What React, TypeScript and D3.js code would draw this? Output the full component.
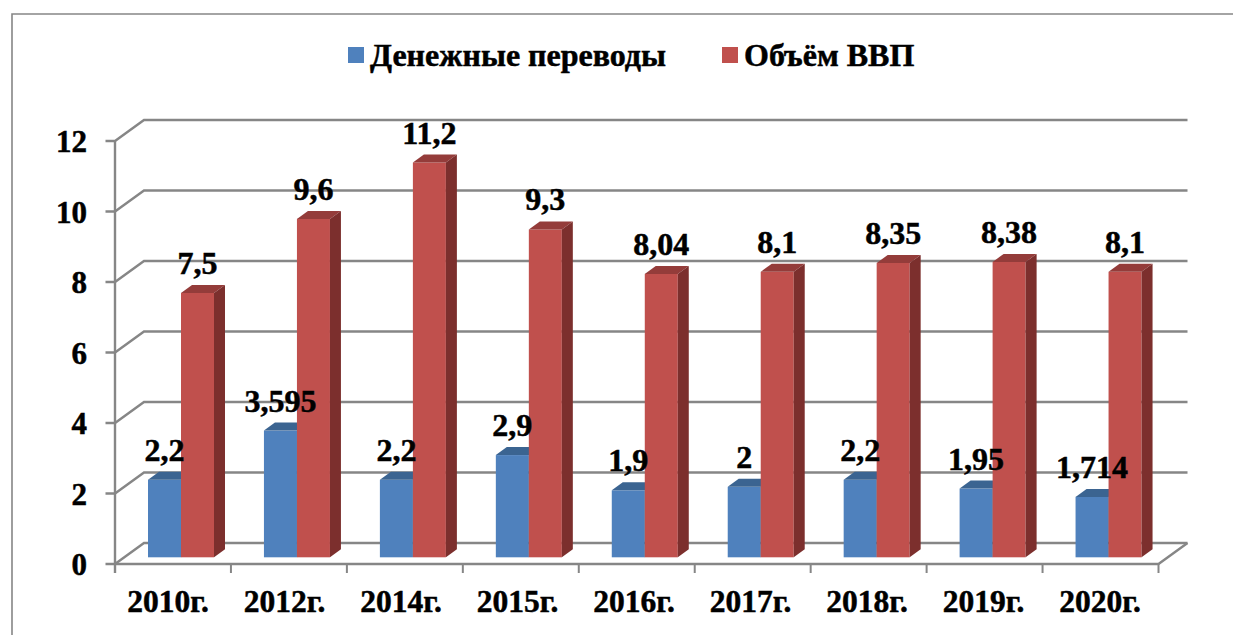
import * as d3 from "d3";

const w = 1233;
const h = 635;

const categories = ["2010г.", "2012г.", "2014г.", "2015г.", "2016г.", "2017г.", "2018г.", "2019г.", "2020г."];
const remittances = [2.2, 3.595, 2.2, 2.9, 1.9, 2, 2.2, 1.95, 1.714];
const gdp = [7.5, 9.6, 11.2, 9.3, 8.04, 8.1, 8.35, 8.38, 8.1];
const yTicks = [0, 2, 4, 6, 8, 10, 12];
const seriesNames = ["Денежные переводы", "Объём ВВП"];

const font = "'Liberation Serif', 'Times New Roman', serif";
const gridColor = "#868686";

// front plane of the axes and how far the back wall is pushed
const left = 115;
const right = 1158.5;
const bottom = 564;
const top = 141;
const wallDx = 29;
const wallDy = 21;

// bars stand a bit behind the front plane
const barLift = 6.7;
const barDx = 11;
const barDy = 8;

const x = d3.scaleBand<string>().domain(categories).range([left, right]);
const inner = d3.scaleBand<number>().domain([0, 1]).range([33, 99]);
const y = d3.scaleLinear().domain([0, 12]).range([bottom, top]);
// category captions are spaced a touch wider than the bands
const xLabel = d3.scalePoint<string>().domain(categories).range([168, 1100]);

const fmt = (v: number) => String(v).replace(".", ",");

const palette = [
  { front: "#4f81bd", top: "#3b6491", side: "#2f4f75" },
  { front: "#c0504d", top: "#943c3a", side: "#7c2f2d" },
];

// the original text is heavy, a hairline stroke brings the weight closer
const boldText = {
  fontFamily: font,
  fontWeight: "bold",
  stroke: "#000",
  strokeWidth: 0.5,
};

function Bar({ cat, s, v }: { cat: string; s: number; v: number }) {
  const x0 = (x(cat) as number) + (inner(s) as number);
  const x1 = x0 + inner.bandwidth();
  const y0 = y(0) - barLift;
  const y1 = y(v) - barLift;
  const c = palette[s];
  return (
    <g>
      <rect x={x0} y={y1} width={x1 - x0} height={y0 - y1} fill={c.front} />
      <path
        d={`M${x0},${y1}L${x0 + barDx},${y1 - barDy}L${x1 + barDx},${y1 - barDy}L${x1},${y1}Z`}
        fill={c.top}
      />
      <path
        d={`M${x1},${y1}L${x1 + barDx},${y1 - barDy}L${x1 + barDx},${y0 - barDy}L${x1},${y0}Z`}
        fill={c.side}
      />
    </g>
  );
}

function App() {
  const series = [remittances, gdp];
  return (
    <svg width={w} height={h} style={{ position: "absolute", left: 0, top: 0, background: "#fff" }}>
      {/* outer frame runs off the picture on the right and bottom */}
      <path d={`M12,${h}V14H${w}`} fill="none" stroke={gridColor} strokeWidth={1.6} />

      {/* legend */}
      <rect x={348} y={47} width={16} height={16} fill={palette[0].front} />
      <text x={370} y={66} {...boldText} fontSize={32}>
        {seriesNames[0]}
      </text>
      <rect x={722} y={47} width={16} height={16} fill={palette[1].front} />
      <text x={744} y={66} {...boldText} fontSize={32}>
        {seriesNames[1]}
      </text>

      {/* walls */}
      {yTicks.map((t) => (
        <path
          key={t}
          d={`M${left - 9.5},${y(t)}H${left}L${left + wallDx},${y(t) - wallDy}H${right + wallDx}`}
          fill="none"
          stroke={gridColor}
          strokeWidth={2.4}
        />
      ))}
      <line x1={left} x2={left} y1={top} y2={bottom + 9} stroke={gridColor} strokeWidth={2.4} />
      <path
        d={`M${left},${bottom}H${right}L${right + wallDx},${bottom - wallDy}`}
        fill="none"
        stroke={gridColor}
        strokeWidth={2.4}
      />
      {[...categories.map((c) => x(c) as number), right].map((p) => (
        <line key={p} x1={p} x2={p} y1={bottom} y2={bottom + 9} stroke={gridColor} strokeWidth={2} />
      ))}

      {/* bars, blue first so the red ones cover them */}
      {series.map((vals, s) =>
        vals.map((v, i) => <Bar key={`${s}-${i}`} cat={categories[i]} s={s} v={v} />)
      )}

      {/* labels */}
      {yTicks.map((t) => (
        <text key={t} x={87} y={y(t)} dy={11} textAnchor="end" {...boldText} fontSize={31}>
          {t}
        </text>
      ))}
      {categories.map((c) => (
        <text key={c} x={xLabel(c)} y={612} textAnchor="middle" {...boldText} fontSize={31.5}>
          {c}
        </text>
      ))}
      {series.map((vals, s) =>
        vals.map((v, i) => (
          <text
            key={`${s}-${i}`}
            x={(x(categories[i]) as number) + (inner(s) as number) + inner.bandwidth() / 2}
            y={y(v) - barLift - 19}
            textAnchor="middle"
            {...boldText}
            fontSize={32}
          >
            {fmt(v)}
          </text>
        ))
      )}
    </svg>
  );
}

export default App;
